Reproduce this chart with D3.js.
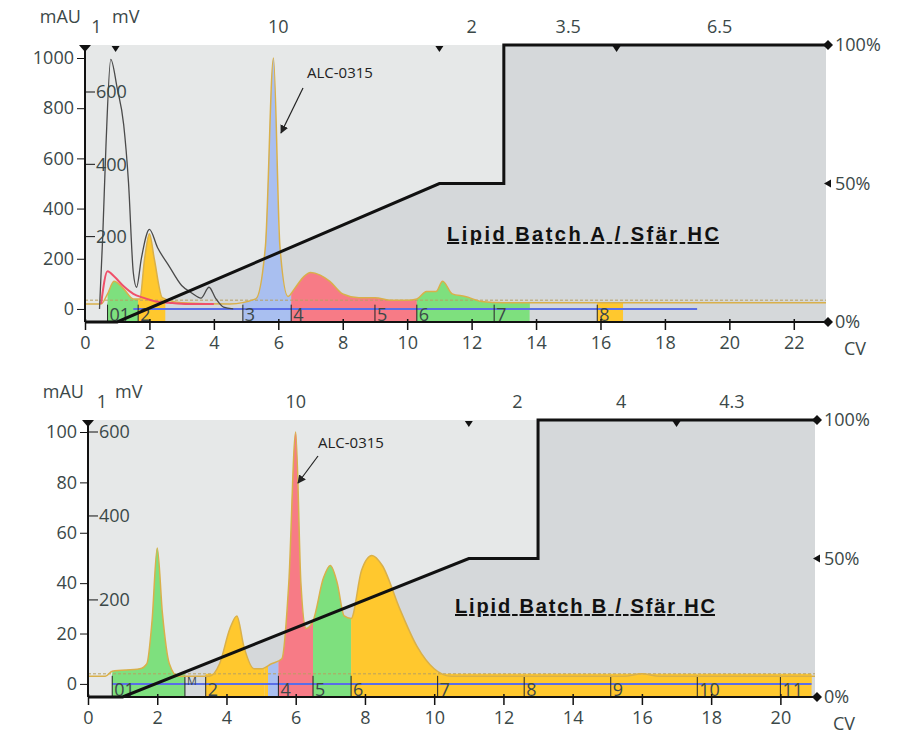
<!DOCTYPE html>
<html><head><meta charset="utf-8">
<script src="https://cdn.jsdelivr.net/npm/d3@7"></script>
<style>body{margin:0;background:#fff}svg{font-family:"Open Sans",sans-serif}</style>
</head><body><svg id="c" width="900" height="734"></svg>
<script>
// ---------- DATA ----------
const uvA = [[0,20],[0.5,20],[0.7,60],[0.9,110],[1.2,80],[1.5,40],[1.7,40],[1.85,200],[2.0,300],[2.15,200],[2.4,45],[3,25],[4.5,20],[5.3,40],[5.6,250],[5.85,1000],[6.05,250],[6.3,50],[6.5,80],[6.8,130],[7.0,145],[7.3,135],[7.6,110],[8.0,60],[8.5,45],[9,45],[9.5,35],[10,35],[10.3,40],[10.6,70],[10.9,70],[11.1,110],[11.4,60],[11.8,50],[12.3,30],[13,25],[23,25]];
const redA = [[0.5,20],[0.7,150],[0.9,130],[1.2,90],[1.5,60],[1.8,45],[2.2,30],[2.6,25],[3.2,20],[4,20]];
const mvA = [[0.45,0],[0.55,200],[0.65,450],[0.8,690],[1.0,610],[1.2,510],[1.35,350],[1.5,100],[1.6,60],[1.75,140],[2.0,220],[2.25,170],[2.6,120],[3.0,65],[3.3,45],[3.6,30],[3.85,60],[4.05,30],[4.3,5],[4.6,0]];
const fracA = [["01",0.7,1.65,"#7ee07e"],["2",1.65,2.5,"#ffc82e"],["",2.5,4.9,"#d5d8da"],["3",4.9,6.4,"#a9bff0"],["4",6.4,9.0,"#f77b86"],["5",9.0,10.3,"#f77b86"],["6",10.3,12.7,"#7ee07e"],["7",12.7,13.8,"#7ee07e"],["8",15.9,16.7,"#ffc82e"]];
const topA = [["1",0.35],["10",6.0],["2",12.0],["3.5",15.0],["6.5",19.7]];
const markA = [0.95,11.0,16.5];
const gradA = [[0,0],[1.0,0],[11,50],[13,50],[13,100],[23,100]];

const uvB = [[0,3],[0.5,3],[0.7,5],[1.5,6],[1.7,8],[1.85,25],[2.0,54],[2.15,28],[2.35,8],[2.6,3],[3.5,3],[3.8,8],[4.1,22],[4.3,27],[4.5,15],[4.8,6],[5.0,6],[5.3,8],[5.6,10],[5.8,40],[6.0,100],[6.15,40],[6.3,22],[6.5,25],[6.8,42],[7.0,47],[7.2,40],[7.4,27],[7.6,26],[7.9,45],[8.2,51],[8.5,47],[9,30],[9.5,15],[10,6],[10.5,3],[15.5,3],[16,4],[16.5,3],[21,3]];
const fracB = [["01",0.7,2.8,"#7ee07e"],["M",2.8,3.4,"#d5d8da"],["2",3.4,5.1,"#ffc82e"],["",5.1,5.2,"#ffc82e"],["",5.2,5.5,"#a9bff0"],["4",5.5,6.5,"#f77b86"],["5",6.5,7.6,"#7ee07e"],["6",7.6,10.1,"#ffc82e"],["7",10.1,12.6,"#ffc82e"],["8",12.6,15.1,"#ffc82e"],["9",15.1,17.6,"#ffc82e"],["10",17.6,20.0,"#ffc82e"],["11",20.0,20.9,"#ffc82e"]];
const topB = [["1",0.4],["10",6.0],["2",12.4],["4",15.4],["4.3",18.6]];
const markB = [11.0,17.0];
const gradB = [[0,0],[1.0,0],[11,50],[13,50],[13,100],[21,100]];

const ticksAX = d3.range(0,23,2), ticksBX = d3.range(0,21,2);
const mauA = [0,200,400,600,800,1000], mvTA = [200,400,600];
const mauB = [0,20,40,60,80,100], mvTB = [200,400,600];
const pctTicks = [0,50,100];

// ---------- DRAW ----------
const svg = d3.select("#c");
const txt = "#3b4848";
const FS = 18;
function panel(o){
  const g = svg.append("g");
  const x = d3.scaleLinear().domain([0,o.xmax]).range([o.x0,o.x1]);
  const y = d3.scaleLinear().domain([o.ymin,o.ymax]).range([o.yb,o.yt]);
  const ymv = d3.scaleLinear().domain([0,600]).range([y(0),o.mv600]);
  const yp = d3.scaleLinear().domain([0,100]).range([o.yb,o.pTop]);
  g.append("rect").attr("x",o.x0).attr("y",o.pTop).attr("width",o.x1-o.x0).attr("height",o.yb-o.pTop).attr("fill","#e6e8e8");
  g.append("path").datum(o.grad).attr("fill","#d5d8da")
   .attr("d",d3.area().x(d=>x(d[0])).y0(o.yb).y1(d=>yp(d[1])));
  o.frac.forEach(f=>{
    g.append("rect").attr("x",x(f[1])).attr("y",y(o.boxTop)).attr("width",x(f[2])-x(f[1])).attr("height",o.yb-y(o.boxTop)).attr("fill",f[3]);
  });
  const cl = o.uv;
  o.frac.forEach((f,i)=>{
    const id="cp"+o.id+i;
    g.append("clipPath").attr("id",id).append("rect").attr("x",x(f[1])).attr("y",0).attr("width",x(f[2])-x(f[1])).attr("height",o.yb);
    g.append("path").datum(cl).attr("clip-path",`url(#${id})`).attr("fill",f[3])
      .attr("d",d3.area().curve(d3.curveMonotoneX).x(d=>x(d[0])).y0(y(0)).y1(d=>y(d[1])));
  });
  g.append("line").attr("x1",o.x0).attr("x2",o.x1).attr("y1",y(o.dash)).attr("y2",y(o.dash)).attr("stroke","#b8a060").attr("stroke-dasharray","3,2").attr("stroke-width",1);
  g.append("line").attr("x1",x(o.blue[0])).attr("x2",x(o.blue[1])).attr("y1",y(0)).attr("y2",y(0)).attr("stroke","#5a6ee8").attr("stroke-width",2);
  o.frac.forEach(f=>{
    if(!f[0]) return;
    g.append("line").attr("x1",x(f[1])).attr("x2",x(f[1])).attr("y1",y(o.boxTop)+2).attr("y2",o.yb).attr("stroke","#222");
    const small = f[0]==="M";
    g.append("text").attr("x",x(f[1])+2).attr("y",small?o.yb-12:o.yb-1).attr("font-size",small?11:18).attr("fill",txt).text(f[0]);
  });
  g.append("path").datum(cl).attr("fill","none").attr("stroke","#d9b04a").attr("stroke-width",1.5)
    .attr("d",d3.line().curve(d3.curveMonotoneX).x(d=>x(d[0])).y(d=>y(d[1])));
  if(o.red) g.append("path").datum(o.red).attr("fill","none").attr("stroke","#f0506a").attr("stroke-width",2)
    .attr("d",d3.line().curve(d3.curveMonotoneX).x(d=>x(d[0])).y(d=>y(d[1])));
  if(o.mv) g.append("path").datum(o.mv).attr("fill","none").attr("stroke","#4a4a4a").attr("stroke-width",1.3)
    .attr("d",d3.line().curve(d3.curveMonotoneX).x(d=>x(d[0])).y(d=>ymv(d[1])));
  g.append("path").datum(o.grad).attr("fill","none").attr("stroke","#111").attr("stroke-width",3)
    .attr("d",d3.line().x(d=>x(d[0])).y(d=>yp(d[1])));
  const xa = g.append("g").attr("transform",`translate(0,${o.yb})`).call(d3.axisBottom(x).tickValues(o.xt).tickSize(8).tickSizeOuter(0));
  xa.select(".domain").attr("stroke","#111").attr("stroke-width",2).attr("d",`M${o.x0},0H${o.x1}`);
  xa.selectAll("text").attr("font-size",FS).attr("fill",txt).attr("dy","0.9em").attr("font-family","Open Sans");
  xa.selectAll("line").attr("stroke","#111").attr("stroke-width",1.5).attr("y1",-3);
  g.append("text").attr("x",o.x1+18).attr("y",o.yb+33).attr("font-size",FS).attr("fill",txt).text("CV");
  const ya = g.append("g").attr("transform",`translate(${o.x0},0)`).call(d3.axisLeft(y).tickValues(o.mau).tickFormat(d3.format("d")).tickSize(8).tickSizeOuter(0));
  ya.select(".domain").attr("d",`M0,${o.yb}V${o.pTop}`).attr("stroke","#111").attr("stroke-width",2);
  ya.selectAll("text").attr("font-size",FS).attr("fill",txt).attr("font-family","Open Sans");
  ya.selectAll("line").attr("stroke","#111");
  o.mvT.forEach(v=>{
    g.append("line").attr("x1",o.x0).attr("x2",o.x0+10).attr("y1",ymv(v)).attr("y2",ymv(v)).attr("stroke","#111");
    g.append("text").attr("x",o.x0+11).attr("y",ymv(v)).attr("dy","0.35em").attr("font-size",FS).attr("fill",txt).text(v);
  });
  g.append("text").attr("x",o.x0-4).attr("y",o.pTop-22).attr("text-anchor","end").attr("font-size",FS).attr("fill",txt).text("mAU");
  g.append("text").attr("x",o.x0+27).attr("y",o.pTop-22).attr("font-size",FS).attr("fill",txt).text("mV");
  pctTicks.forEach(p=>{
    g.append("path").attr("transform",`translate(${o.x1+2},${yp(p)})`).attr("d",p===50?"M-4,0L3,-4V4Z":"M-5,0L0,-5L5,0L0,5Z").attr("fill","#111");
    g.append("text").attr("x",o.x1+9).attr("y",yp(p)).attr("dy","0.35em").attr("font-size",FS).attr("fill",txt).text(p+"%");
  });
  o.top.forEach(t=>g.append("text").attr("x",x(t[1])).attr("y",o.pTop-12).attr("text-anchor","middle").attr("font-size",FS).attr("fill",txt).text(t[0]));
  o.marks.forEach(m=>g.append("path").attr("transform",`translate(${x(m)},${o.pTop+3})`).attr("d","M-4,-2H4L0,4Z").attr("fill","#111"));
  g.append("path").attr("transform",`translate(${o.x0},${o.pTop+3})`).attr("d","M-6,-3H6L0,4Z").attr("fill","#111");
  g.append("text").attr("x",o.ann[0]).attr("y",o.ann[1]).attr("font-size",15).attr("fill","#222").text("ALC-0315");
  g.append("line").attr("x1",o.ann[2]).attr("y1",o.ann[3]).attr("x2",o.ann[4]).attr("y2",o.ann[5]).attr("stroke","#222").attr("stroke-width",1.2).attr("marker-end","url(#arr)");
  g.append("text").attr("x",o.title[1]).attr("y",o.title[2]).attr("font-size",20).attr("font-weight","bold").attr("fill","#111").attr("text-decoration","underline").attr("textLength",o.title[3]).attr("font-family","Liberation Sans").text(o.title[0]);
}
svg.append("defs").append("marker").attr("id","arr").attr("viewBox","0 0 10 10").attr("refX",9).attr("refY",5)
  .attr("markerWidth",7).attr("markerHeight",7).attr("orient","auto").append("path").attr("d","M0,0L10,5L0,10Z").attr("fill","#222");

panel({id:"A",xmax:23,x0:85,x1:826,ymin:-52,ymax:1000,yb:322,yt:58,mv600:92,pTop:45,
  uv:uvA,red:redA,mv:mvA,frac:fracA,grad:gradA,xt:ticksAX,mau:mauA,mvT:mvTA,top:topA,marks:markA,
  boxTop:25,dash:35,blue:[1.5,19],ann:[307,78,303,88,281,133],title:["Lipid Batch A / Sfär HC",447,241,272]});
panel({id:"B",xmax:21,x0:88,x1:815,ymin:-5.2,ymax:100,yb:697,yt:432,mv600:432,pTop:420,
  uv:uvB,frac:fracB,grad:gradB,xt:ticksBX,mau:mauB,mvT:mvTB,top:topB,marks:markB,
  boxTop:4,dash:4,blue:[0.7,20.9],ann:[318,448,318,456,298,483],title:["Lipid Batch B / Sfär HC",455,613,260]});
</script></body></html>
